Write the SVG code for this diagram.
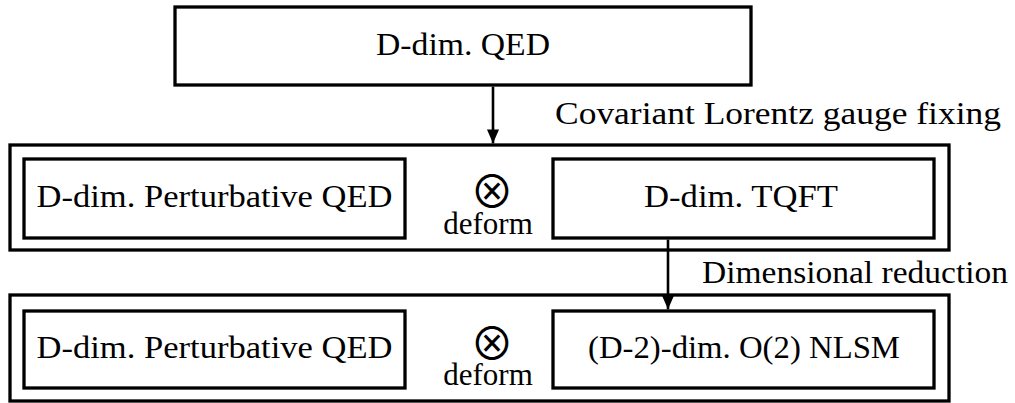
<svg xmlns="http://www.w3.org/2000/svg" width="1015" height="403" viewBox="0 0 1015 403">
<style>
.box{fill:none;stroke:#000;stroke-width:3.3}
.t{font-family:"Liberation Serif",Tinos,"Times New Roman",Times,"DejaVu Serif","Noto Serif",FreeSerif,serif;font-size:31px;fill:#000}
.c{text-anchor:middle}
.op{font-family:"Noto Sans CJK JP","DejaVu Sans",sans-serif;font-size:44px}
.conn{stroke:#000;stroke-width:2.6;fill:none}
</style>
<defs>
<marker id="ah" markerUnits="userSpaceOnUse" markerWidth="14" markerHeight="14" viewBox="0 0 14 12" refX="14" refY="6" orient="auto">
<path d="M0,0 L14,6 L0,12 Z" fill="#000"/>
</marker>
</defs>
<g id="qed">
<rect class="box" x="175" y="7" width="576" height="78"/>
<text class="t c" x="463" y="55" textLength="174" lengthAdjust="spacingAndGlyphs">D-dim. QED</text>
</g>
<g id="gauge-fixed">
<rect class="box" x="10" y="145" width="939" height="105"/>
</g>
<g id="pert-qed-1">
<rect class="box" x="24" y="159" width="381" height="79"/>
<text class="t c" x="214.5" y="207" textLength="356" lengthAdjust="spacingAndGlyphs">D-dim. Perturbative QED</text>
</g>
<g id="deform-1">
<text class="t c"><tspan class="op" x="492" y="208">⊗</tspan><tspan x="488" y="234">deform</tspan></text>
</g>
<g id="tqft">
<rect class="box" x="553" y="159" width="381" height="79"/>
<text class="t c" x="741" y="207" textLength="194" lengthAdjust="spacingAndGlyphs">D-dim. TQFT</text>
</g>
<g id="reduced">
<rect class="box" x="10" y="295" width="939" height="106"/>
</g>
<g id="pert-qed-2">
<rect class="box" x="24" y="311" width="381" height="77"/>
<text class="t c" x="214.5" y="358" textLength="356" lengthAdjust="spacingAndGlyphs">D-dim. Perturbative QED</text>
</g>
<g id="deform-2">
<text class="t c"><tspan class="op" x="492" y="360">⊗</tspan><tspan x="488" y="385">deform</tspan></text>
</g>
<g id="nlsm">
<rect class="box" x="553" y="311" width="381" height="77"/>
<text class="t c" x="744" y="358" textLength="312" lengthAdjust="spacingAndGlyphs">(D-2)-dim. O(2) NLSM</text>
</g>
<g id="connectors">
<line class="conn" x1="493" y1="86.6" x2="493" y2="143.4" marker-end="url(#ah)"/>
<text class="t" x="555" y="124" textLength="446" lengthAdjust="spacingAndGlyphs">Covariant Lorentz gauge fixing</text>
<line class="conn" x1="668" y1="239.6" x2="668" y2="309.4" marker-end="url(#ah)"/>
<text class="t" x="702" y="283" textLength="306" lengthAdjust="spacingAndGlyphs">Dimensional reduction</text>
</g>
</svg>
